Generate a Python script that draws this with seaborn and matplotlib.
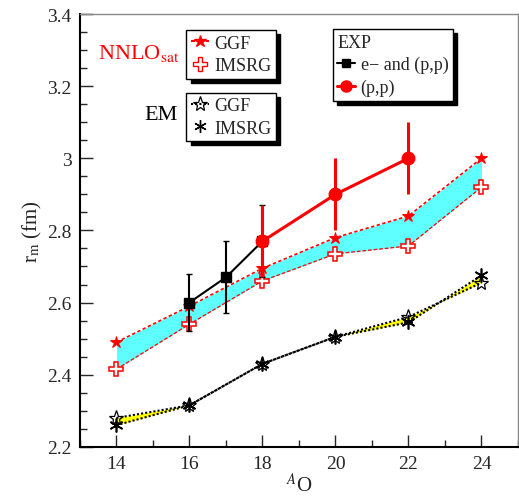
import numpy as np
import pandas as pd
import seaborn as sns
import matplotlib.pyplot as plt
from matplotlib.lines import Line2D
from matplotlib.ticker import MultipleLocator

# Mass numbers of the oxygen isotopes
mass_a = [14, 16, 18, 20, 22, 24]

# NNLOsat results (band edges)
nnlo_ggf = [2.49, 2.59, 2.695, 2.78, 2.84, 3.0]
nnlo_imsrg = [2.415, 2.54, 2.66, 2.735, 2.757, 2.92]

# EM results
em_ggf = [2.28, 2.315, 2.43, 2.505, 2.56, 2.655]
em_imsrg = [2.26, 2.315, 2.43, 2.505, 2.545, 2.675]

# Experiment
exp_e_a = [16, 17, 18]
exp_e_r = [2.60, 2.67, 2.77]
exp_e_err = [0.08, 0.10, 0.10]
exp_p_a = [18, 20, 22]
exp_p_r = [2.77, 2.90, 3.00]
exp_p_err = [0.10, 0.10, 0.10]

sns.set_theme(style="white")
plt.rcParams["font.family"] = ["Liberation Serif", "DejaVu Serif"]
plt.rcParams["mathtext.fontset"] = "stix"

fig = plt.figure(figsize=(5.19, 5.02), dpi=100)
ax = fig.add_axes([0.154, 0.108, 0.844, 0.862])

df = pd.DataFrame({"A": mass_a, "nnlo_ggf": nnlo_ggf, "nnlo_imsrg": nnlo_imsrg,
                   "em_ggf": em_ggf, "em_imsrg": em_imsrg})

# bands
ax.fill_between(df["A"], df["nnlo_imsrg"], df["nnlo_ggf"], color="#60FFFF", lw=0, zorder=1)
ax.fill_between(df["A"], df["em_imsrg"], df["em_ggf"], color="#FFFF00", lw=0, zorder=1)

sns.lineplot(data=df, x="A", y="nnlo_ggf", ax=ax, color="red", linestyle=(0, (2, 1.5)),
             lw=1.2, marker="*", markersize=9, markeredgecolor="red", zorder=3)
sns.lineplot(data=df, x="A", y="nnlo_imsrg", ax=ax, color="red", linestyle=(0, (3, 1.5)),
             lw=0.9, marker="P", markersize=10, markerfacecolor="white",
             markeredgecolor="red", markeredgewidth=1.1, zorder=3)
sns.lineplot(data=df, x="A", y="em_ggf", ax=ax, color="black", linestyle=(0, (1, 1)),
             lw=1.5, marker="*", markersize=11, markerfacecolor="none",
             markeredgecolor="black", markeredgewidth=0.9, zorder=3)
sns.lineplot(data=df, x="A", y="em_imsrg", ax=ax, color="black", linestyle=(0, (1, 1)),
             lw=1.5, marker=(6, 2, 0), markersize=10, markeredgecolor="black",
             markeredgewidth=1.2, zorder=3)

# experiment
ax.errorbar(exp_e_a, exp_e_r, yerr=exp_e_err, color="black", lw=1.5, marker="s",
            markersize=7, capsize=2, elinewidth=1.5, zorder=4)
ax.errorbar(exp_p_a, exp_p_r, yerr=exp_p_err, color="red", lw=2.2, marker="o",
            markersize=9, capsize=0, elinewidth=2.2, zorder=5)

ax.set_xlim(13, 25)
ax.set_ylim(2.2, 3.4)
ax.set_xticks([14, 16, 18, 20, 22, 24])
ax.xaxis.set_minor_locator(MultipleLocator(1))
ax.set_yticks([2.2, 2.4, 2.6, 2.8, 3.0, 3.2, 3.4])
ax.set_yticklabels(["2.2", "2.4", "2.6", "2.8", "3", "3.2", "3.4"])
ax.yaxis.set_minor_locator(MultipleLocator(0.05))
ax.tick_params(which="both", direction="in", left=True, bottom=True, labelsize=14, pad=6)
ax.tick_params(which="major", length=9, width=1)
ax.tick_params(which="minor", length=5, width=1)
for side in ["left", "bottom"]:
    ax.spines[side].set_linewidth(1.5)
    ax.spines[side].set_color("black")
for side in ["top", "right"]:
    ax.spines[side].set_linewidth(1)
    ax.spines[side].set_color("#888888")

ax.set_xlabel(r"$^{A}$O", fontsize=15, labelpad=0)
ax.set_ylabel(r"r$_{\rm m}$ (fm)", fontsize=15, labelpad=2)

leg_kw = dict(fontsize=13, frameon=True, fancybox=False, edgecolor="black",
              shadow={"color": "black", "alpha": 1, "ox": 3, "oy": -3},
              handlelength=1.0, handletextpad=0.3, borderpad=0.25, labelspacing=0.3,
              borderaxespad=0)

h1 = [Line2D([], [], color="red", ls=(0, (2, 1.5)), marker="*", markersize=9),
      Line2D([], [], color="red", ls="none", marker="P", markersize=10,
             markerfacecolor="white", markeredgecolor="red")]
leg1 = ax.legend(h1, ["GGF", "IMSRG"], loc="upper left", bbox_to_anchor=(0.243, 0.963), **leg_kw)
leg1.get_frame().set_linewidth(1)
ax.add_artist(leg1)

h2 = [Line2D([], [], color="black", ls=(0, (1, 1)), marker="*", markersize=11,
             markerfacecolor="none", markeredgewidth=0.9),
      Line2D([], [], color="black", ls="none", marker=(6, 2, 0), markersize=9)]
leg2 = ax.legend(h2, ["GGF", "IMSRG"], loc="upper left", bbox_to_anchor=(0.243, 0.818), **leg_kw)
leg2.get_frame().set_linewidth(1)
ax.add_artist(leg2)

h3 = [Line2D([], [], color="black", lw=1.5, marker="s", markersize=6),
      Line2D([], [], color="red", lw=2.2, marker="o", markersize=8)]
leg3 = ax.legend(h3, ["e\u2212 and (p,p)", "(p,p)"], loc="upper left",
                 bbox_to_anchor=(0.577, 0.965), title="EXP", title_fontsize=13,
                 alignment="left", **leg_kw)
leg3.get_frame().set_linewidth(1)

fig.text(0.189, 0.883, r"NNLO$_{\rm sat}$", color="red", fontsize=16)
fig.text(0.279, 0.76, "EM", color="black", fontsize=16)

fig.savefig("out.png", dpi=100)
